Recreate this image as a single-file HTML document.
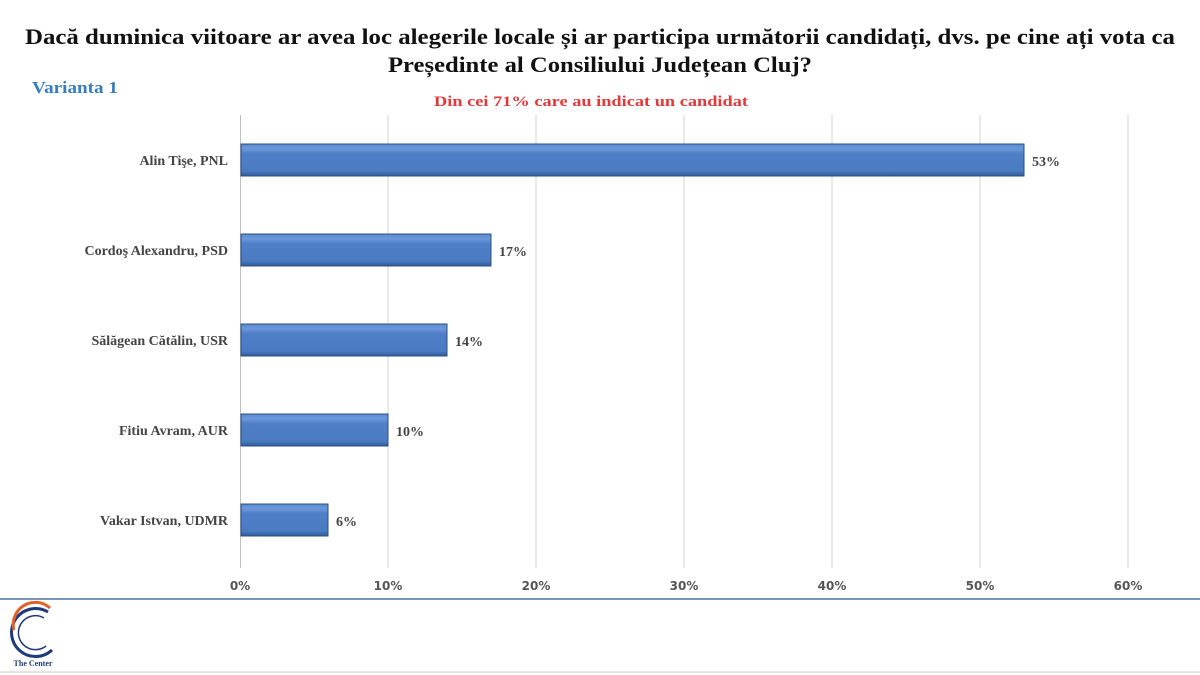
<!DOCTYPE html>
<html><head><meta charset="utf-8"><style>
body{margin:0;background:#fff;}
svg{display:block}
</style></head><body>
<svg width="1200" height="675" xmlns="http://www.w3.org/2000/svg" font-family="'Liberation Serif', serif">
<defs>
<linearGradient id="g" x1="0" y1="0" x2="0" y2="1">
<stop offset="0" stop-color="#5b8bd0"/><stop offset="0.15" stop-color="#6a98da"/><stop offset="0.3" stop-color="#4f7fc6"/><stop offset="0.85" stop-color="#4a7bc2"/><stop offset="1" stop-color="#2f5a98"/>
</linearGradient>
</defs>
<text x="25" y="44" font-size="22" font-weight="bold" fill="#111" textLength="1150" lengthAdjust="spacingAndGlyphs">Dacă duminica viitoare ar avea loc alegerile locale și ar participa următorii candidați, dvs. pe cine ați vota ca</text>
<text x="388" y="72" font-size="22" font-weight="bold" fill="#111" textLength="424" lengthAdjust="spacingAndGlyphs">Președinte al Consiliului Județean Cluj?</text>
<text x="32" y="93" font-size="17" font-weight="bold" fill="#3a7cc0" textLength="86" lengthAdjust="spacingAndGlyphs">Varianta 1</text>
<text x="434" y="106" font-size="15" font-weight="bold" fill="#e03a3a" textLength="314" lengthAdjust="spacingAndGlyphs">Din cei 71% care au indicat un candidat</text>
<g stroke="#d6d6d6" stroke-width="1">
<line x1="388" y1="115" x2="388" y2="568"/><line x1="536" y1="115" x2="536" y2="568"/><line x1="684" y1="115" x2="684" y2="568"/><line x1="832" y1="115" x2="832" y2="568"/><line x1="980" y1="115" x2="980" y2="568"/><line x1="1128" y1="115" x2="1128" y2="568"/>
</g>
<line x1="240.5" y1="115" x2="240.5" y2="568" stroke="#bfbfbf"/>
<g font-size="13" font-weight="bold" fill="#555" text-anchor="middle" font-family="'DejaVu Sans', sans-serif">
<text x="240" y="590" font-size="12">0%</text><text x="388" y="590" font-size="12">10%</text><text x="536" y="590" font-size="12">20%</text><text x="684" y="590" font-size="12">30%</text><text x="832" y="590" font-size="12">40%</text><text x="980" y="590" font-size="12">50%</text><text x="1128" y="590" font-size="12">60%</text>
</g>
<g stroke="#2c4f82" stroke-width="1">
<rect x="241" y="144" width="783" height="32" fill="url(#g)"/>
<rect x="241" y="234" width="250" height="32" fill="url(#g)"/>
<rect x="241" y="324" width="206" height="32" fill="url(#g)"/>
<rect x="241" y="414" width="147" height="32" fill="url(#g)"/>
<rect x="241" y="504" width="87" height="32" fill="url(#g)"/>
</g>
<g font-size="14" font-weight="bold" fill="#444">
<text x="1032" y="166">53%</text><text x="499" y="256">17%</text><text x="455" y="346">14%</text><text x="396" y="436">10%</text><text x="336" y="526">6%</text>
</g>
<g font-size="14" font-weight="bold" fill="#444" text-anchor="end">
<text x="228" y="165">Alin Tişe, PNL</text><text x="228" y="255">Cordoş Alexandru, PSD</text><text x="228" y="345">Sălăgean Cătălin, USR</text><text x="228" y="435">Fitiu Avram, AUR</text><text x="228" y="525">Vakar Istvan, UDMR</text>
</g>
<line x1="0" y1="599" x2="1200" y2="599" stroke="#4a72a8" stroke-width="1.5"/>
<line x1="0" y1="672" x2="1200" y2="672" stroke="#ccc" stroke-width="1"/>
<path d="M48 612 A24 24 0 1 0 52 650" fill="none" stroke="#1f3a7a" stroke-width="3"/>
<path d="M50 608 A22 22 0 0 0 14 630" fill="none" stroke="#e0622a" stroke-width="3"/>
<path d="M44 618 A17 17 0 1 0 46 646" fill="none" stroke="#1f3a7a" stroke-width="1.5"/>
<text x="33" y="666" text-anchor="middle" font-size="8" font-weight="bold" fill="#1f3a7a">The Center</text>
</svg>
</body></html>
